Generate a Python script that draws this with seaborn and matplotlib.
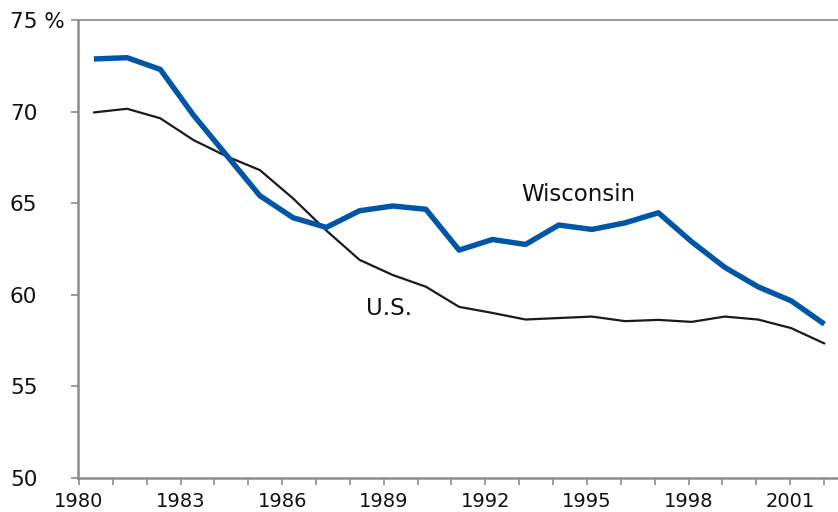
import pandas as pd
import numpy as np
import matplotlib.pyplot as plt
import seaborn as sns

sns.set_style("white")
plt.rcParams['font.family'] = ['DejaVu Sans']

# data
years = list(range(1980, 2003))
wisconsin = [72.87, 72.94, 72.3, 69.8, 67.6, 65.4, 64.2, 63.67, 64.58, 64.84, 64.66,
             62.43, 63.01, 62.74, 63.8, 63.56, 63.92, 64.47, 62.89, 61.49, 60.43,
             59.66, 58.39]
us = [69.95, 70.15, 69.63, 68.44, 67.55, 66.8, 65.25, 63.5, 61.9, 61.07, 60.43,
      59.33, 59.0, 58.64, 58.72, 58.8, 58.55, 58.62, 58.51, 58.8, 58.64,
      58.17, 57.33]
y_ticks = [50, 55, 60, 65, 70, 75]
y_labels = ['50', '55', '60', '65', '70', '75 %']

df = pd.DataFrame({'year': years + years,
                   'value': wisconsin + us,
                   'region': ['Wisconsin'] * len(years) + ['U.S.'] * len(years)})

fig = plt.figure(figsize=(8.38, 5.12), dpi=100)
ax = fig.add_axes([0.093, 0.067, 0.907, 0.894])

sns.lineplot(data=df[df.region == 'U.S.'], x='year', y='value', color='#1a1a1a',
             linewidth=1.6, ax=ax, legend=False)
sns.lineplot(data=df[df.region == 'Wisconsin'], x='year', y='value', color='#0056a6',
             linewidth=3.9, ax=ax, legend=False, solid_capstyle='butt')

ax.set_xlim(1979.52, 2002.41)
ax.set_ylim(50, 75)
ax.set_xlabel('')
ax.set_ylabel('')

# the category ticks in the original drift slightly against the points
step = 1.0199
tick_pos = [1979.55 + step * k for k in range(len(years))]
ax.set_xticks(tick_pos[::3])
ax.set_xticklabels([str(y) for y in years[::3]])
ax.set_xticks(tick_pos, minor=True)
ax.set_yticks(y_ticks)
ax.set_yticklabels(y_labels)

grey = '#8c8c8c'
for side in ['left', 'bottom', 'top']:
    ax.spines[side].set_color(grey)
    ax.spines[side].set_linewidth(1.8)
ax.spines['top'].set_linewidth(1.2)
ax.spines['right'].set_visible(False)

ax.tick_params(axis='both', which='both', direction='out', color=grey, width=1.2,
               labelcolor='#111111')
ax.tick_params(axis='x', which='both', length=5, bottom=True, pad=5, labelsize=14)
ax.tick_params(axis='y', length=5, left=True, pad=44, labelsize=15.5)
for lab in ax.get_yticklabels():
    lab.set_ha('left')

ax.text(1994.6, 65.45, 'Wisconsin', fontsize=16.5, ha='center', va='center', color='#111111')
ax.text(1988.9, 59.25, 'U.S.', fontsize=16.5, ha='center', va='center', color='#111111')

plt.savefig('out.png', dpi=100)
plt.close()
